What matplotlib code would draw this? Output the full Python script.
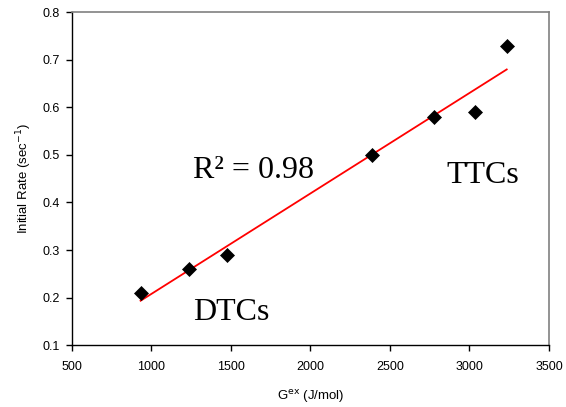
import numpy as np
import matplotlib
matplotlib.use("Agg")
import matplotlib.pyplot as plt

# excess Gibbs energy (J/mol) vs initial rate (1/sec)
g_ex = np.array([932, 1238, 1473, 2385, 2779, 3035, 3234])
rate = np.array([0.21, 0.26, 0.29, 0.50, 0.58, 0.59, 0.73])
r2_text = "R² = 0.98"
group_labels = ["DTCs", "TTCs"]

x_ticks = [500, 1000, 1500, 2000, 2500, 3000, 3500]
y_ticks = [0.1, 0.2, 0.3, 0.4, 0.5, 0.6, 0.7, 0.8]

plt.rcParams["font.family"] = ["Liberation Sans", "DejaVu Sans"]

fig = plt.figure(figsize=(5.66, 4.07), dpi=100)
ax = fig.add_axes([0.127, 0.152, 0.843, 0.818])

# linear fit across the data range
slope, icpt = np.polyfit(g_ex, rate, 1)
xf = np.array([g_ex.min(), g_ex.max()])
ax.plot(xf, slope * xf + icpt, color="#ff0000", lw=1.3, zorder=2)

ax.plot(g_ex, rate, linestyle="none", marker="D", ms=7.6,
        color="black", mec="black", mew=0.5, zorder=3)

ax.set_xlim(500, 3500)
ax.set_ylim(0.1, 0.8)
ax.set_xticks(x_ticks)
ax.set_yticks(y_ticks)
ax.set_xticklabels([str(v) for v in x_ticks], fontsize=9)
ax.set_yticklabels([f"{v:.1f}" for v in y_ticks], fontsize=9)
ax.tick_params(direction="out", length=4.5, width=1.0, color="black")
ax.tick_params(axis="x", pad=7)
ax.tick_params(axis="y", pad=4)

for side in ("left", "bottom"):
    ax.spines[side].set_color("black")
    ax.spines[side].set_linewidth(1.0)
for side in ("top", "right"):
    ax.spines[side].set_color("#808080")
    ax.spines[side].set_linewidth(1.2)

ax.set_xlabel("G$^{\\mathrm{ex}}$ (J/mol)", fontsize=9.5, labelpad=11)
ax.set_ylabel("Initial Rate (sec$^{\\mathrm{-1}}$)", fontsize=9.5, labelpad=6)

serif = ["Liberation Serif", "DejaVu Serif"]
ax.text(1261, 0.468, r2_text, fontsize=23, family=serif,
        ha="left", va="center")
ax.text(1261, 0.169, group_labels[0], fontsize=23, family=serif,
        ha="left", va="center")
ax.text(2858, 0.457, group_labels[1], fontsize=23, family=serif,
        ha="left", va="center")

fig.savefig("out.png", dpi=100)
